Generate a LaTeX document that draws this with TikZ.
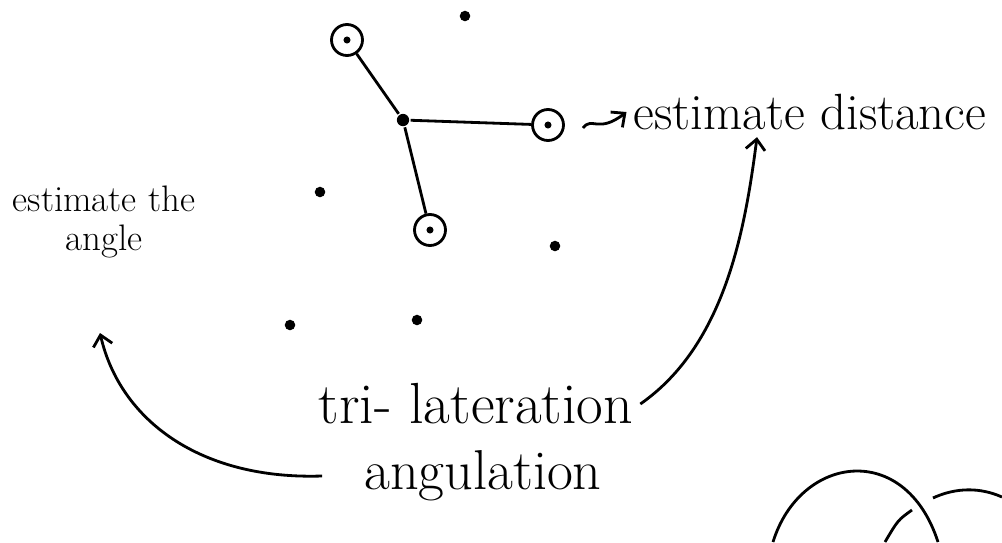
\documentclass[tikz,border=0pt]{standalone}
\usetikzlibrary{arrows.meta}
\begin{document}
\begin{tikzpicture}[x=0.02cm, y=-0.02cm, line width=1.6pt,
    >={Straight Barb[length=6pt,width=11pt]},
    station/.style={circle, draw, minimum size=0.62cm, inner sep=0pt},
    blob/.style={circle, fill, inner sep=0pt, minimum size=#1}]
    \useasboundingbox (0,0) rectangle (1002,542);
    % unknown point and three stations
    \node[blob=7pt] (c) at (403,120) {};
    \node[station] (a1) at (347,40) {};
    \node[station] (a2) at (548,125) {};
    \node[station] (a3) at (430,230) {};
    \node[blob=4pt] at (a1) {};
    \node[blob=4pt] at (a2) {};
    \node[blob=4pt] at (a3) {};
    \draw (c) -- (a1);
    \draw (c) -- (a2);
    \draw (c) -- (a3);
    % other nodes
    \foreach \p in {(465,16), (320,192), (555,246), (290,325), (417,320)}
        \fill \p circle (3pt);
    % labels
    \node (dist) at (810,112) [font=\fontsize{29}{31}\selectfont] {estimate distance};
    \node (angle) at (104,222) [align=center, inner sep=0pt, font=\fontsize{21}{22}\selectfont] {estimate the\\ angle};
    \node (tri) at (476,404) [font=\fontsize{33}{36}\selectfont] {tri- lateration};
    \node (ang) at (483,476) [font=\fontsize{32}{34}\selectfont] {angulation};
    \coordinate (angtip) at (100,333);
    % arrows
    \draw[->] (583,128) .. controls (592,116) and (598,134) .. (dist.west);
    \draw[->] (tri.east) .. controls (725,345) and (745,230) .. ([xshift=-1.06cm]dist.south);
    \draw[->] ([xshift=-0.7cm]ang.west) .. controls (200,480) and (120,420) .. (angtip);
    % circles, bottom right
    \draw (773,542) .. controls (800,455) and (905,440) .. (938,542);
    \draw (912,510) .. controls (898,520) .. (885,542);
    \draw (933,498) .. controls (950,490) and (975,485) .. (1002,497);
\end{tikzpicture}
\end{document}
